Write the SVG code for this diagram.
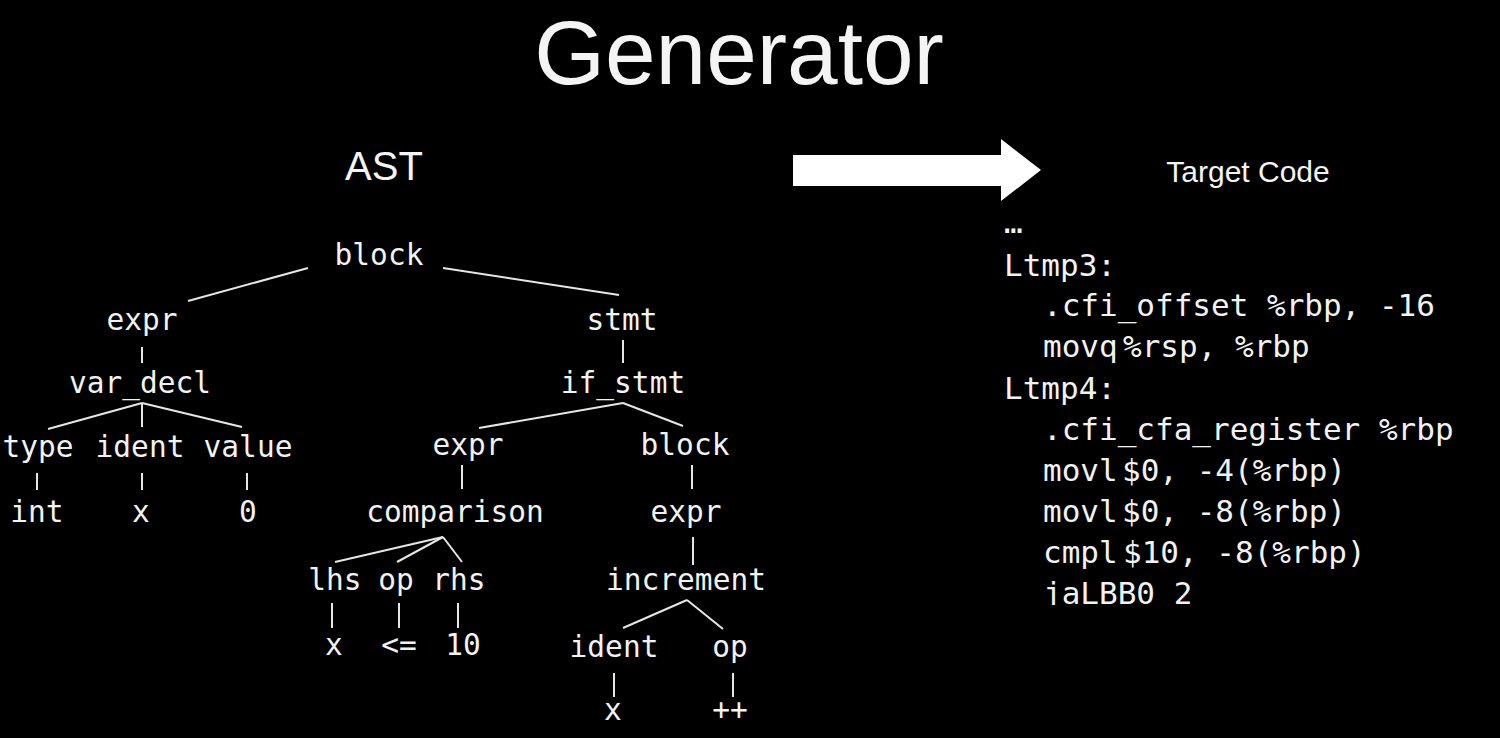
<svg xmlns="http://www.w3.org/2000/svg" width="1500" height="738" viewBox="0 0 1500 738">
  <style>
    .title { font-family: "Liberation Sans", Arial, sans-serif; fill: #f4f4f4; text-anchor: middle; }
    .node { font-family: "DejaVu Sans Mono", "Liberation Mono", monospace; font-size: 29.5px; fill: #f2f2f2; text-anchor: middle; }
    .code { font-family: "DejaVu Sans Mono", "Liberation Mono", monospace; font-size: 31px; fill: #f2f2f2; }
    .edge { stroke: #e6e6e6; stroke-width: 2; fill: none; stroke-linecap: butt; }
  </style>
  <defs>
    <clipPath id="codeClip">
      <rect x="990" y="200" width="500" height="405"/>
    </clipPath>
  </defs>
  <rect width="1500" height="738" fill="#000"/>

  <!-- headings -->
  <text class="title" x="739" y="84" font-size="91">Generator</text>
  <text class="title" x="384" y="180" font-size="40">AST</text>
  <text class="title" x="1248" y="182" font-size="30">Target Code</text>

  <!-- transformation arrow -->
  <polygon id="arrow" points="793,155 1001,155 1001,139 1041,170 1001,201 1001,186 793,186" fill="#fff"/>

  <!-- tree connectors -->
  <g id="connectors" class="edge">
    <line x1="308" y1="268" x2="188" y2="301"/>
    <line x1="443" y1="268" x2="619" y2="295"/>
    <line x1="142" y1="347" x2="142" y2="363"/>
    <line x1="142" y1="403" x2="48" y2="429"/>
    <line x1="142" y1="403" x2="142" y2="427"/>
    <line x1="142" y1="403" x2="242" y2="427"/>
    <line x1="37" y1="473" x2="37" y2="490"/>
    <line x1="142" y1="473" x2="142" y2="490"/>
    <line x1="247" y1="473" x2="247" y2="490"/>
    <line x1="623" y1="340" x2="623" y2="363"/>
    <line x1="623" y1="403" x2="479" y2="428"/>
    <line x1="623" y1="403" x2="683" y2="426"/>
    <line x1="462" y1="465" x2="462" y2="489"/>
    <line x1="692" y1="465" x2="692" y2="489"/>
    <line x1="443" y1="537" x2="335" y2="562"/>
    <line x1="443" y1="537" x2="397" y2="562"/>
    <line x1="443" y1="537" x2="462" y2="562"/>
    <line x1="332" y1="603" x2="332" y2="628"/>
    <line x1="399" y1="603" x2="399" y2="628"/>
    <line x1="458" y1="603" x2="458" y2="628"/>
    <line x1="693" y1="537" x2="693" y2="565"/>
    <line x1="687" y1="600" x2="623" y2="628"/>
    <line x1="687" y1="600" x2="723" y2="629"/>
    <line x1="614" y1="673" x2="614" y2="697"/>
    <line x1="733" y1="673" x2="733" y2="697"/>
  </g>

  <!-- tree nodes -->
  <g id="n-block"><text class="node" x="379" y="265">block</text></g>
  <g id="n-expr1"><text class="node" x="142" y="330">expr</text></g>
  <g id="n-var_decl"><text class="node" x="140" y="393">var_decl</text></g>
  <g id="n-type"><text class="node" x="38" y="457">type</text></g>
  <g id="n-ident1"><text class="node" x="140" y="457">ident</text></g>
  <g id="n-value"><text class="node" x="248" y="457">value</text></g>
  <g id="n-int"><text class="node" x="37" y="522">int</text></g>
  <g id="n-x1"><text class="node" x="141" y="522">x</text></g>
  <g id="n-zero"><text class="node" x="248" y="522">0</text></g>
  <g id="n-stmt"><text class="node" x="622" y="330">stmt</text></g>
  <g id="n-if_stmt"><text class="node" x="623" y="393">if_stmt</text></g>
  <g id="n-expr2"><text class="node" x="468" y="455">expr</text></g>
  <g id="n-block2"><text class="node" x="685" y="455">block</text></g>
  <g id="n-comparison"><text class="node" x="455" y="522">comparison</text></g>
  <g id="n-expr3"><text class="node" x="686" y="522">expr</text></g>
  <g id="n-lhs"><text class="node" x="335" y="590">lhs</text></g>
  <g id="n-op1"><text class="node" x="396" y="590">op</text></g>
  <g id="n-rhs"><text class="node" x="459" y="590">rhs</text></g>
  <g id="n-increment"><text class="node" x="686" y="590">increment</text></g>
  <g id="n-x2"><text class="node" x="334" y="655">x</text></g>
  <g id="n-le"><text class="node" x="399" y="655">&lt;=</text></g>
  <g id="n-ten"><text class="node" x="463" y="655">10</text></g>
  <g id="n-ident2"><text class="node" x="614" y="657">ident</text></g>
  <g id="n-op2"><text class="node" x="730" y="657">op</text></g>
  <g id="n-x3"><text class="node" x="613" y="720">x</text></g>
  <g id="n-inc"><text class="node" x="730" y="720">++</text></g>

  <!-- generated assembly listing -->
  <g id="listing" clip-path="url(#codeClip)">
    <text class="code" x="1004" y="233">…</text>
    <text class="code" x="1004" y="276">Ltmp3:</text>
    <text class="code" x="1043" y="316">.cfi_offset %rbp, -16</text>
    <text class="code" x="1043" y="357">movq<tspan x="1123">%rsp, %rbp</tspan></text>
    <text class="code" x="1004" y="399">Ltmp4:</text>
    <text class="code" x="1043" y="440">.cfi_cfa_register %rbp</text>
    <text class="code" x="1043" y="481">movl<tspan x="1122">$0, -4(%rbp)</tspan></text>
    <text class="code" x="1043" y="522">movl<tspan x="1122">$0, -8(%rbp)</tspan></text>
    <text class="code" x="1043" y="563">cmpl<tspan x="1123">$10, -8(%rbp)</tspan></text>
    <text class="code" x="1043" y="604" fill="#b8b8b8">jaLBB0_2</text>
  </g>
</svg>
